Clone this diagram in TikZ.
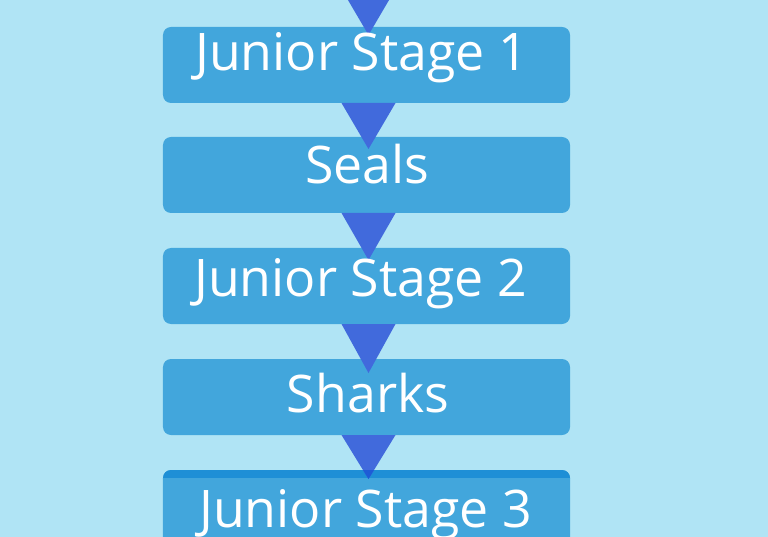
\documentclass[tikz,border=0pt]{standalone}
\usepackage{fontspec}
\setmainfont{Open Sans}
\usetikzlibrary{calc}
\definecolor{bgc}{RGB}{176,228,245}
\definecolor{boxc}{RGB}{66,166,220}
\definecolor{tric}{RGB}{65,106,220}
\definecolor{stripc}{RGB}{30,143,214}
\definecolor{tipdark}{RGB}{30,92,214}
\tikzset{
  stagebox/.style={fill=boxc, draw=none, rounded corners=8bp, minimum width=407bp, minimum height=76bp, inner sep=0pt, outer sep=0pt},
  stagetext/.style={text=white, font=\fontsize{52}{60}\selectfont, anchor=base, inner sep=0pt},
  tri/.style={fill=tric, draw=none},
}
\begin{document}
\begin{tikzpicture}[x=1bp,y=-1bp]
\useasboundingbox (0,0) rectangle (768,537);
\fill[bgc] (0,0) rectangle (768,537);
\begin{scope}
\clip (0,0) rectangle (768,537);
\node[stagebox] (b1) at (366.5,65) {};
\node[stagebox] (b2) at (366.5,175) {};
\node[stagebox] (b3) at (366.5,286) {};
\node[stagebox] (b4) at (366.5,397) {};
\node[stagebox] (b5) at (366.5,508) {};
\fill[stripc, rounded corners=8bp] (b5.north west) rectangle ($(b5.north east)+(0,16)$);
\fill[boxc] ($(b5.north west)+(0,8)$) rectangle ($(b5.east)+(0,0)$);
\coordinate (top) at (368.5,-11);
% triangles
\fill[tri] ($(top)+(-27,0)$) -- ($(top)+(27,0)$) -- ($(b1.north)+(2,8)$) -- cycle;
\fill[tri] ($(b1.south)+(-25,0)$) -- ($(b1.south)+(29,0)$) -- ($(b2.north)+(2,12)$) -- cycle;
\fill[tri] ($(b2.south)+(-25,0)$) -- ($(b2.south)+(29,0)$) -- ($(b3.north)+(2,12)$) -- cycle;
\fill[tri] ($(b3.south)+(-25,0)$) -- ($(b3.south)+(29,0)$) -- ($(b4.north)+(2,14)$) -- cycle;
\fill[tri] ($(b4.south)+(-25,0)$) -- ($(b4.south)+(29,0)$) -- ($(b5.north)+(2,9)$) -- cycle;
\begin{scope}
\clip (b5.north west) rectangle ($(b5.north east)+(0,8)$);
\fill[tipdark] ($(b4.south)+(-25,0)$) -- ($(b4.south)+(29,0)$) -- ($(b5.north)+(2,9)$) -- cycle;
\end{scope}
% texts
\node[stagetext] (t1) at (361.5,71) {Junior Stage 1};
\node[stagetext] (t2) at (367.5,184) {Seals};
\node[stagetext] (t3) at (360.5,297) {Junior Stage 2};
\node[stagetext] (t4) at (368,412) {Sharks};
\node[stagetext] (t5) at (365.5,527) {Junior Stage 3};
\end{scope}
\end{tikzpicture}
\end{document}
